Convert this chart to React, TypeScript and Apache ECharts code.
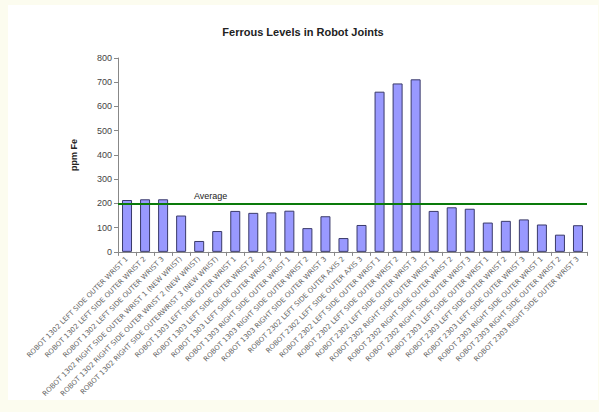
import React, { useEffect, useRef } from "react";
import * as echarts from "echarts";

const categories: string[] = [
  "ROBOT 1302 LEFT SIDE OUTER WRIST 1",
  "ROBOT 1302 LEFT SIDE OUTER WRIST 2",
  "ROBOT 1302 LEFT SIDE OUTER WRIST 3",
  "ROBOT 1302 RIGHT SIDE OUTER WRIST 1 (NEW WRIST)",
  "ROBOT 1302 RIGHT SIDE OUTER WRIST 2 (NEW WRIST)",
  "ROBOT 1302 RIGHT SIDE OUTERWRIST 3 (NEW WRIST)",
  "ROBOT 1303 LEFT SIDE OUTER WRIST 1",
  "ROBOT 1303 LEFT SIDE OUTER WRIST 2",
  "ROBOT 1303 LEFT SIDE OUTER WRIST 3",
  "ROBOT 1303 RIGHT SIDE OUTER WRIST 1",
  "ROBOT 1303 RIGHT SIDE OUTER WRIST 2",
  "ROBOT 1303 RIGHT SIDE OUTER WRIST 3",
  "ROBOT 2302 LEFT SIDE OUTER AXIS 2",
  "ROBOT 2302 LEFT SIDE OUTER AXIS 3",
  "ROBOT 2302 LEFT SIDE OUTER WRIST 1",
  "ROBOT 2302 LEFT SIDE OUTER WRIST 2",
  "ROBOT 2302 LEFT SIDE OUTER WRIST 3",
  "ROBOT 2302 RIGHT SIDE OUTER WRIST 1",
  "ROBOT 2302 RIGHT SIDE OUTER WRIST 2",
  "ROBOT 2302 RIGHT SIDE OUTER WRIST 3",
  "ROBOT 2303 LEFT SIDE OUTER WRIST 1",
  "ROBOT 2303 LEFT SIDE OUTER WRIST 2",
  "ROBOT 2303 LEFT SIDE OUTER WRIST 3",
  "ROBOT 2303 RIGHT SIDE OUTER WRIST 1",
  "ROBOT 2303 RIGHT SIDE OUTER WRIST 2",
  "ROBOT 2303 RIGHT SIDE OUTER WRIST 3",
];

const ferrousValues: number[] = [
  214, 217, 217, 150, 45, 86, 169, 161, 163, 170, 98, 147, 57, 111,
  661, 695, 712, 169, 184, 178, 121, 128, 134, 113, 71, 110,
];

const averageValue = 200;
const yMin = 0;
const yMax = 800;
const yInterval = 100;

export default function App() {
  const ref = useRef<HTMLDivElement>(null);

  useEffect(() => {
    if (!ref.current) return;
    const chart = echarts.init(ref.current, undefined, { renderer: "svg" });
    chart.setOption({
      animation: false,
      backgroundColor: "#ffffff",
      title: {
        text: "Ferrous Levels in Robot Joints",
        left: 290,
        top: 16,
        textAlign: "center",
        textStyle: {
          fontFamily: "Liberation Sans, Arial, sans-serif",
          fontSize: 11,
          fontWeight: "bold",
          color: "#222",
        },
      },
      grid: { left: 110, right: 11, top: 53, bottom: 143, containLabel: false },
      xAxis: {
        type: "category",
        data: categories,
        boundaryGap: true,
        axisLine: { lineStyle: { color: "#888", width: 1 } },
        axisTick: { show: true, length: 4, lineStyle: { color: "#888" } },
        axisLabel: {
          interval: 0,
          rotate: 45,
          fontSize: 7,
          fontFamily: "DejaVu Sans, sans-serif",
          color: "#666",
          margin: 6,
        },
      },
      yAxis: {
        type: "value",
        min: yMin,
        max: yMax,
        interval: yInterval,
        name: "ppm Fe",
        nameLocation: "middle",
        nameGap: 40,
        nameRotate: 90,
        nameTextStyle: {
          fontFamily: "Liberation Sans, Arial, sans-serif",
          fontSize: 9,
          fontWeight: "bold",
          color: "#222",
        },
        axisLine: { show: true, lineStyle: { color: "#888", width: 1 } },
        axisTick: { show: true, length: 4, lineStyle: { color: "#888" } },
        splitLine: { show: false },
        axisLabel: {
          fontFamily: "Liberation Sans, Arial, sans-serif",
          fontSize: 9,
          color: "#444",
          margin: 6,
        },
      },
      series: [
        {
          type: "bar",
          data: ferrousValues,
          barWidth: 10,
          itemStyle: {
            color: "#9999ff",
            borderColor: "#3a3a6a",
            borderWidth: 1,
          },
          markLine: {
            silent: true,
            symbol: ["none", "none"],
            lineStyle: { color: "#0a7a0a", width: 2, type: "solid" },
            label: {
              show: true,
              formatter: "Average",
              position: "insideStartTop",
              distance: [76, 3],
              fontFamily: "Liberation Sans, Arial, sans-serif",
              fontSize: 9,
              color: "#222",
            },
            data: [{ yAxis: averageValue }],
          },
        },
      ],
    });
    return () => chart.dispose();
  }, []);

  return (
    <div
      style={{
        position: "fixed",
        left: 0,
        top: 0,
        width: 599,
        height: 412,
        background: "#fcfcef",
      }}
    >
      <div
        ref={ref}
        style={{
          position: "absolute",
          left: 8,
          top: 5,
          width: 590,
          height: 395,
          background: "#fff",
        }}
      />
    </div>
  );
}
